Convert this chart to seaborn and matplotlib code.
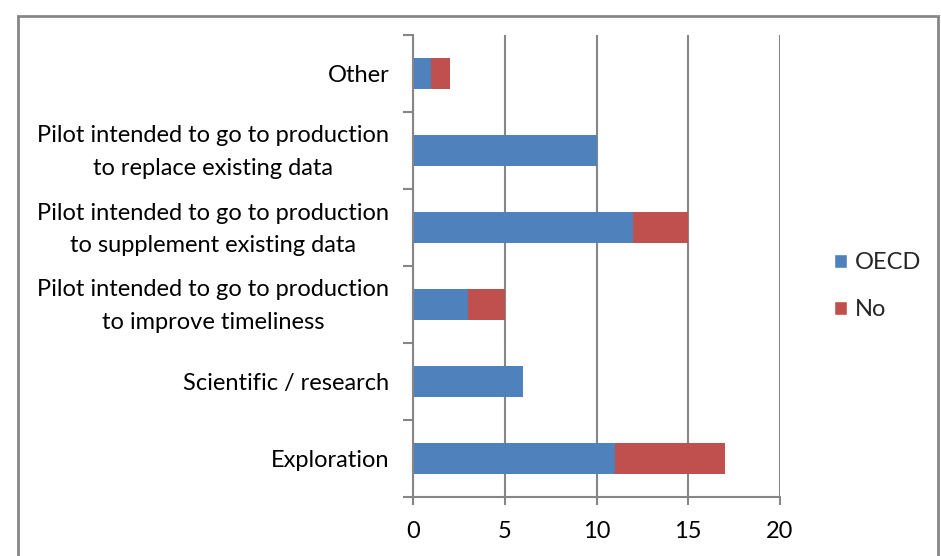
import matplotlib
matplotlib.use("Agg")
import matplotlib.pyplot as plt
import matplotlib.transforms as mtrans
import seaborn as sns
import pandas as pd
import numpy as np
from matplotlib.patches import Rectangle, Patch

categories = [
    "Other",
    "Pilot intended to go to production\nto replace existing data",
    "Pilot intended to go to production\nto supplement existing data",
    "Pilot intended to go to production\nto improve timeliness",
    "Scientific / research",
    "Exploration",
]
oecd = [1, 10, 12, 3, 6, 11]
no = [1, 0, 3, 2, 0, 6]
xticks = [0, 5, 10, 15, 20]

BLUE = "#4F81BD"
RED = "#C0504D"
GRAY = "#868686"
FS = 17

sns.set_theme(style="white")
plt.rcParams["font.family"] = ["Lato", "DejaVu Sans"]

df = pd.DataFrame({"cat": categories, "OECD": oecd, "No": no})
df["total"] = df["OECD"] + df["No"]

fig = plt.figure(figsize=(9.41, 5.56), dpi=100)
ax = fig.add_axes([413/941, 1-497/556, (780-413)/941, (497-35)/556])

sns.barplot(data=df, x="total", y="cat", orient="h", color=RED, width=0.39,
            saturation=1, ax=ax, order=categories, linewidth=0)
sns.barplot(data=df, x="OECD", y="cat", orient="h", color=BLUE, width=0.39,
            saturation=1, ax=ax, order=categories, linewidth=0)

ax.set_xlim(0, 20)
ax.set_ylim(5.5, -0.5)
ax.set_xticks(xticks)
ax.set_xticklabels([str(t) for t in xticks], fontsize=FS, color="#000000")
ax.set_xlabel("")
ax.set_ylabel("")
ax.set_yticks(range(len(categories)))
ax.set_yticklabels(categories, fontsize=FS, ha="right", multialignment="center",
                   linespacing=1.7, color="#000000")
ax.set_yticks(np.arange(-0.5, 6, 1), minor=True)
ax.tick_params(axis="y", which="major", length=0, pad=17)
ax.tick_params(axis="y", which="minor", length=7, width=1.5, color=GRAY, direction="out", left=True)
ax.tick_params(axis="x", which="major", length=6, width=1.5, color=GRAY, direction="out", bottom=True, pad=11)

shift = mtrans.ScaledTranslation(0, 6/100, fig.dpi_scale_trans)
for lab in ax.get_yticklabels():
    if "\n" in lab.get_text():
        lab.set_transform(lab.get_transform() + shift)

ax.grid(axis="x", color=GRAY, linewidth=1.5)
ax.set_axisbelow(True)
for s in ["top", "right"]:
    ax.spines[s].set_visible(False)
for s in ["left", "bottom"]:
    ax.spines[s].set_color(GRAY)
    ax.spines[s].set_linewidth(1.5)

handles = [Patch(facecolor=BLUE, label="OECD"), Patch(facecolor=RED, label="No")]
fig.legend(handles=handles, loc="center left", bbox_to_anchor=(834/941, 1-286/556),
           frameon=False, fontsize=FS, handlelength=0.55, handleheight=0.55,
           handletextpad=0.35, labelspacing=1.1, borderpad=0, borderaxespad=0)

fig.patches.append(Rectangle((18/941, -0.02), (938-18)/941, 1-16/556+0.02,
                             transform=fig.transFigure, fill=False,
                             edgecolor=GRAY, linewidth=2))

fig.savefig("out.png", dpi=100, facecolor="white")
